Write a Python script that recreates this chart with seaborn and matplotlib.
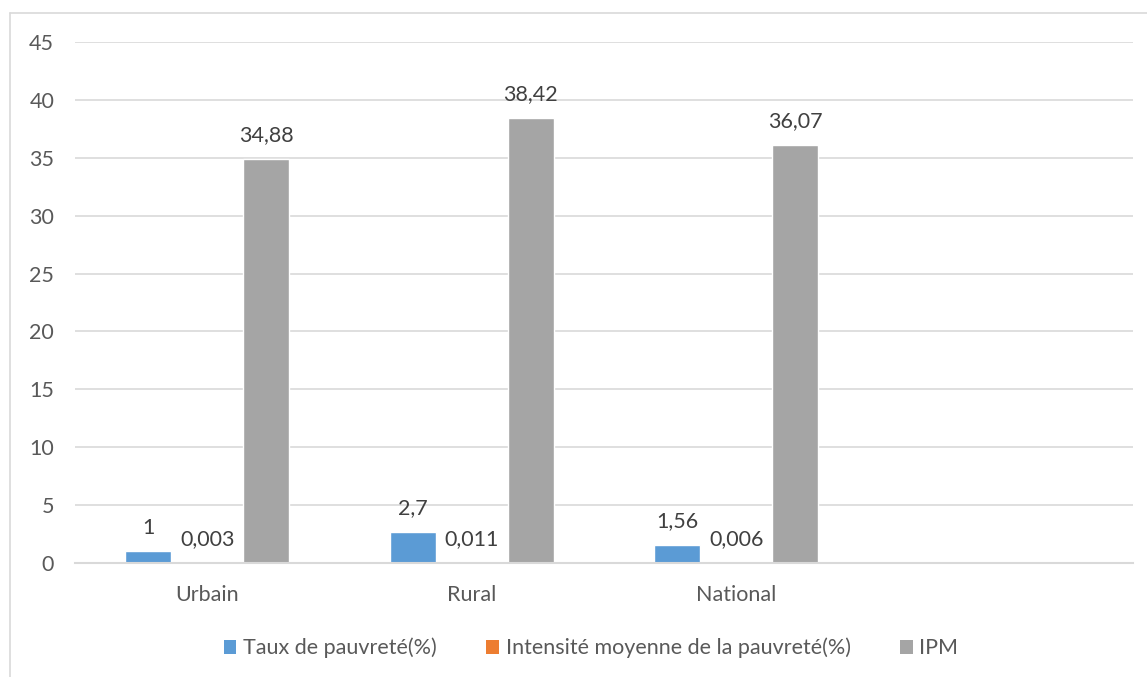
import matplotlib
matplotlib.use("Agg")
import matplotlib.pyplot as plt
from matplotlib.patches import Patch
from matplotlib.lines import Line2D
import pandas as pd
import seaborn as sns

# Data
zones = ["Urbain", "Rural", "National"]
taux_pauvrete = [1, 2.7, 1.56]
intensite_moyenne = [0.003, 0.011, 0.006]
ipm = [34.88, 38.42, 36.07]
series = ["Taux de pauvreté(%)", "Intensité moyenne de la pauvreté(%)", "IPM"]
colors = ["#5B9BD5", "#ED7D31", "#A5A5A5"]
y_ticks = [0, 5, 10, 15, 20, 25, 30, 35, 40, 45]

df = pd.DataFrame({
    "Zone": zones * 3,
    "Série": [series[0]] * 3 + [series[1]] * 3 + [series[2]] * 3,
    "Valeur": taux_pauvrete + intensite_moyenne + ipm,
})

sns.set_theme(style="white")
plt.rcParams["font.family"] = ["Lato", "DejaVu Sans"]

fig = plt.figure(figsize=(11.47, 6.77), dpi=100)
ax = fig.add_axes([75 / 1147, 1 - 563 / 677, (1133 - 75) / 1147, (563 - 42) / 677])

sns.barplot(
    data=df, x="Zone", y="Valeur", hue="Série",
    order=zones + [""], hue_order=series, palette=colors,
    width=0.67, gap=0.22, saturation=1, errorbar=None,
    legend=False, ax=ax,
)

ax.set_xlim(-0.5, 3.5)
ax.set_ylim(0, 45)
ax.set_yticks(y_ticks)
ax.set_xlabel("")
ax.set_ylabel("")
ax.yaxis.grid(True, color="#D9D9D9", linewidth=1.2)
ax.set_axisbelow(True)
for side in ["top", "right", "left"]:
    ax.spines[side].set_visible(False)
ax.spines["bottom"].set_color("#D9D9D9")
ax.spines["bottom"].set_linewidth(1.5)
ax.tick_params(axis="both", length=0, labelsize=15.5, labelcolor="#595959")
ax.tick_params(axis="y", pad=15)
ax.tick_params(axis="x", pad=16)


def fmt(v):
    return f"{v:g}".replace(".", ",")


for cont in ax.containers:
    labels = [fmt(v) for v in cont.datavalues]
    ax.bar_label(cont, labels=labels, padding=10, fontsize=15.5, color="#404040")

handles = [Patch(facecolor=c, edgecolor="none") for c in colors]
fig.legend(
    handles, series, loc="center", bbox_to_anchor=(591 / 1147, 1 - 648 / 677),
    ncol=3, frameon=False, fontsize=15.5, labelcolor="#595959",
    handlelength=0.6, handleheight=0.6, handletextpad=0.3, columnspacing=2.3,
)

# Chart area border
border = "#D9D9D9"
fig.add_artist(Line2D([10 / 1147, 10 / 1147], [0, 1 - 13 / 677], transform=fig.transFigure,
                      color=border, linewidth=1.2))
fig.add_artist(Line2D([10 / 1147, 1], [1 - 13 / 677, 1 - 13 / 677], transform=fig.transFigure,
                      color=border, linewidth=1.2))

fig.savefig("out.png", dpi=100, facecolor="white")
